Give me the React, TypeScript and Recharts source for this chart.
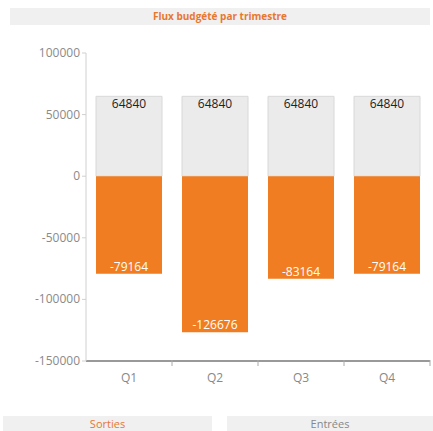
import React from "react";
import { BarChart, Bar, XAxis, YAxis, LabelList } from "recharts";

const quarters = ["Q1", "Q2", "Q3", "Q4"];
const entrees = [64840, 64840, 64840, 64840];
const sorties = [-79164, -126676, -83164, -79164];
const yTicks = [-150000, -100000, -50000, 0, 50000, 100000];

const ORANGE = "#F07D22";
const FONT = "'Open Sans', 'Noto Sans', sans-serif";

const data = quarters.map((q, i) => ({ q, entrees: entrees[i], sorties: sorties[i] }));

// category tick: label plus a small mark at the right edge of the band
function QuarterTick(props: any) {
  const { x, y, payload } = props;
  const half = 43;
  return (
    <g>
      <line x1={x + half} x2={x + half} y1={y - 9} y2={y - 3} stroke="#aaa" />
      <text x={x} y={y + 13} textAnchor="middle" fill="#888" fontSize={12} fontFamily={FONT}>
        {payload.value}
      </text>
    </g>
  );
}

function ValueTick(props: any) {
  const { x, y, payload } = props;
  return (
    <text x={x} y={y + 4} textAnchor="end" fill="#8a8a8a" fontSize={12} fontFamily={FONT}>
      {payload.value}
    </text>
  );
}

export default function App() {
  return (
    <div style={{ position: "absolute", left: 0, top: 0, width: 433, height: 431, background: "#fff", fontFamily: FONT }}>
      <div
        style={{
          position: "absolute", left: 10, top: 8, width: 420, height: 17,
          background: "#F0F0F0", color: "#E8772E", fontWeight: 700, fontSize: 10,
          textAlign: "center", lineHeight: "17px",
        }}
      >
        Flux budgété par trimestre
      </div>
      <div style={{ position: "absolute", left: 0, top: 0 }}>
        <BarChart
          width={433}
          height={392}
          data={data}
          stackOffset="sign"
          barCategoryGap={10}
          margin={{ top: 53, right: 3, left: 0, bottom: 0 }}
        >
          <XAxis
            dataKey="q"
            axisLine={{ stroke: "#999", strokeWidth: 2 }}
            tickLine={false}
            tick={<QuarterTick />}
            height={31}
          />
          <YAxis
            domain={[-150000, 100000]}
            ticks={yTicks}
            width={86}
            axisLine={{ stroke: "#d0d0d0" }}
            tickLine={{ stroke: "#d0d0d0" }}
            tickSize={4}
            tick={<ValueTick />}
          />
          <Bar dataKey="entrees" stackId="a" fill="#EBEBEB" stroke="#D8D8D8" isAnimationActive={false}>
            <LabelList dataKey="entrees" position="insideTop" fill="#222" fontSize={12} fontFamily={FONT} offset={3} />
          </Bar>
          <Bar dataKey="sorties" stackId="a" fill={ORANGE} isAnimationActive={false}>
            <LabelList dataKey="sorties" position="insideTop" fill="#fff" fontSize={12} fontFamily={FONT} offset={3} />
          </Bar>
        </BarChart>
      </div>
      <div
        style={{
          position: "absolute", left: 3, top: 416, width: 209, height: 15,
          background: "#F0F0F0", color: "#E8772E", fontSize: 11, textAlign: "center", lineHeight: "15px",
        }}
      >
        Sorties
      </div>
      <div
        style={{
          position: "absolute", left: 227, top: 416, width: 206, height: 15,
          background: "#F0F0F0", color: "#888", fontSize: 11, textAlign: "center", lineHeight: "15px",
        }}
      >
        Entrées
      </div>
    </div>
  );
}
